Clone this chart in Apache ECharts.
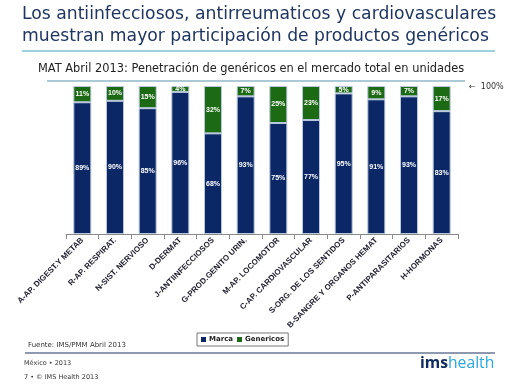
<!DOCTYPE html>
<html><head><meta charset="utf-8">
<script src="https://cdn.jsdelivr.net/npm/echarts@6/dist/echarts.min.js"></script>
<style>html,body{margin:0;padding:0;background:#fff}#c{width:522px;height:391px}</style>
</head><body><div id="c"></div>
<script>
var categories = ["A-AP. DIGEST.Y METAB","R-AP. RESPIRAT.","N-SIST. NERVIOSO","D-DERMAT","J-ANTIINFECCIOSOS","G-PROD.GENITO URIN.","M-AP. LOCOMOTOR","C-AP. CARDIOVASCULAR","S-ORG. DE LOS SENTIDOS","B-SANGRE Y ORGANOS HEMAT","P-ANTIPARASITARIOS","H-HORMONAS"];
var marca = [89,90,85,96,68,93,75,77,95,91,93,83];
var genericos = [11,10,15,4,32,7,25,23,5,9,7,17];
var titleLines = ["Los antiinfecciosos, antirreumaticos y cardiovasculares","muestran mayor participación de productos genéricos"];
var subtitle = "MAT Abril 2013: Penetración de genéricos en el mercado total en unidades";

var chart = echarts.init(document.getElementById('c'), null, {renderer:'canvas'});
var navy = '#0b2766', green = '#1d6a14';
var lblFont = "'Liberation Sans Narrow','Liberation Sans',sans-serif";
chart.setOption({
  animation:false,
  grid:{left:66,right:64,top:86,bottom:157,containLabel:false},
  legend:{
    left:197, top:333, itemWidth:5, itemHeight:5, itemGap:4,
    padding:[3,4,3,4], borderColor:'#777', borderWidth:1,
    icon:'rect',
    itemStyle:{borderWidth:0},
    textStyle:{fontFamily:"'DejaVu Sans',sans-serif",fontSize:7,fontWeight:'bold',color:'#222',padding:[0,0,0,-2]},
    data:['Marca','Genericos']
  },
  xAxis:{
    type:'category', data:categories,
    axisLine:{lineStyle:{color:'#8a8a8a'}},
    axisTick:{show:true,lineStyle:{color:'#8a8a8a'}},
    axisLabel:{rotate:45,fontSize:8,fontWeight:'bold',color:'#1a1a2a',fontFamily:lblFont,margin:5,interval:0}
  },
  yAxis:{type:'value',min:0,max:100,show:false,splitLine:{show:false}},
  series:[
    {name:'Marca',type:'bar',stack:'s',data:marca,barWidth:18,
     itemStyle:{color:navy,borderColor:'#b8c8dc',borderWidth:1},
     label:{show:true,position:'inside',formatter:'{c}%',color:'#fff',fontSize:7,fontWeight:'bold',fontFamily:lblFont}},
    {name:'Genericos',type:'bar',stack:'s',data:genericos,barWidth:18,
     itemStyle:{color:green,borderColor:'#b8c8dc',borderWidth:1},
     label:{show:true,position:'inside',formatter:'{c}%',color:'#fff',fontSize:7,fontWeight:'bold',fontFamily:lblFont}}
  ],
  graphic:[
    {type:'text',left:22,top:6,style:{text:titleLines[0],font:"17.2px 'DejaVu Sans',sans-serif",fill:'#1f3560'}},
    {type:'text',left:22,top:28,style:{text:titleLines[1],font:"17.2px 'DejaVu Sans',sans-serif",fill:'#1f3560'}},
    {type:'line',shape:{x1:22,y1:51,x2:495,y2:51},style:{stroke:'#7cc4d0',lineWidth:1.5}},
    {type:'text',left:38,top:64,style:{text:subtitle,font:"11.4px 'DejaVu Sans',sans-serif",fill:'#222'}},
    {type:'line',shape:{x1:47,y1:81,x2:465,y2:81},style:{stroke:'#8fb8c8',lineWidth:1.5}},
    {type:'text',left:469,top:83,style:{text:'←  100%',font:"8px 'DejaVu Sans',sans-serif",fill:'#333'}},
    {type:'text',left:28,top:342,style:{text:'Fuente: IMS/PMM Abril 2013',font:"7px 'DejaVu Sans',sans-serif",fill:'#333'}},
    {type:'line',shape:{x1:25,y1:353,x2:495,y2:353},style:{stroke:'#1f3560',lineWidth:1}},
    {type:'text',left:24,top:360,style:{text:'México • 2013',font:"6.5px 'DejaVu Sans',sans-serif",fill:'#333'}},
    {type:'text',left:24,top:374,style:{text:'7 • © IMS Health 2013',font:"6.5px 'DejaVu Sans',sans-serif",fill:'#333'}},
    {type:'text',left:420,top:356,style:{rich:{a:{font:"bold 15.7px 'Open Sans',sans-serif",fill:'#0e2a5e'},b:{font:"15.7px 'Open Sans',sans-serif",fill:'#2aa7df'}},text:'{a|ims}{b|health}'}}
  ]
});
</script></body></html>
